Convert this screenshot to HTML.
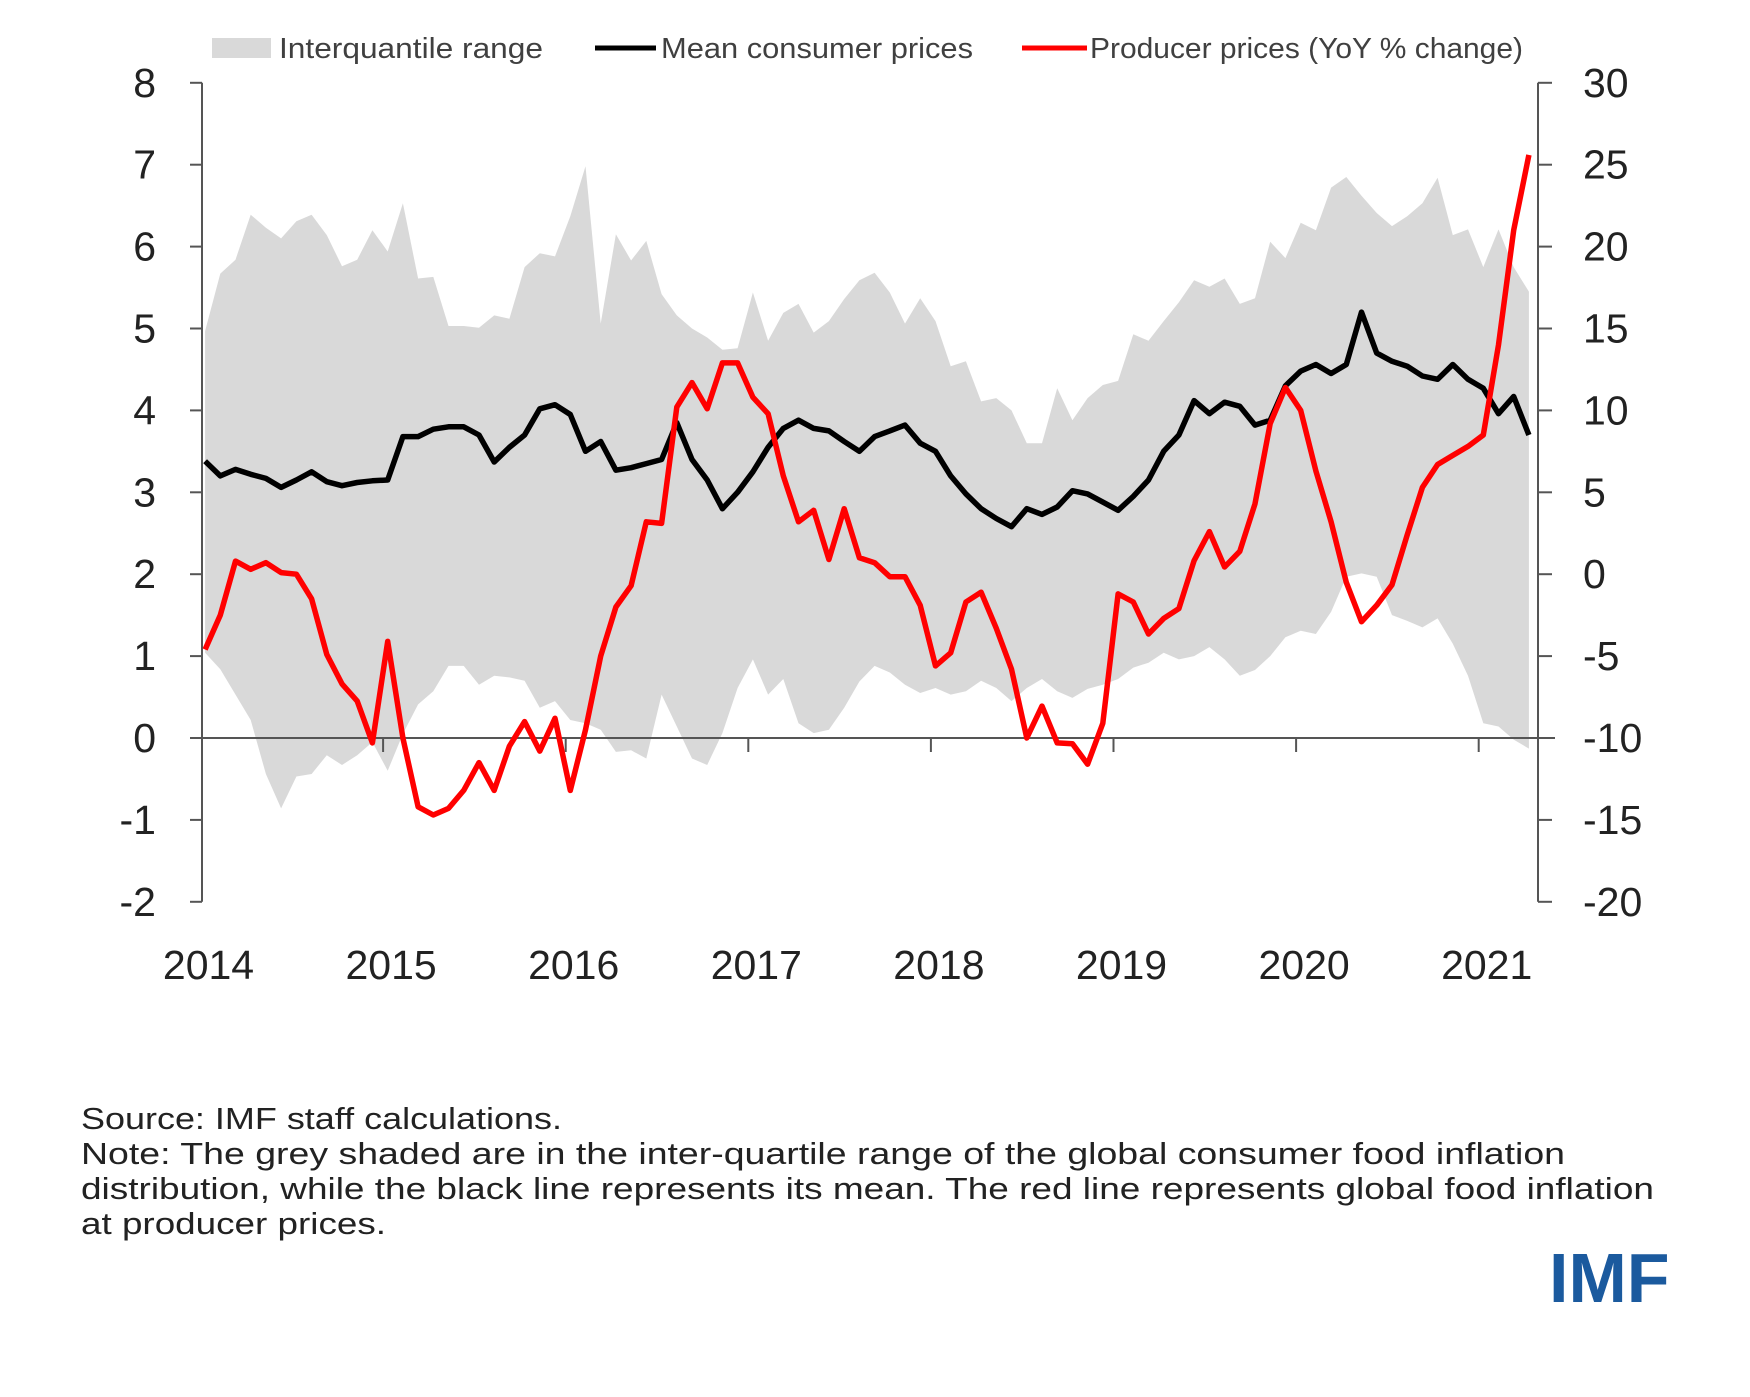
<!DOCTYPE html>
<html><head><meta charset="utf-8"><style>
body{margin:0;background:#fff;}
svg{display:block;font-family:"Liberation Sans",sans-serif;}
</style></head><body>
<svg id="chart" width="1750" height="1397" viewBox="0 0 1750 1397">
<g id="plot"></g>
<g>
<rect x="212" y="38" width="59" height="20" fill="#d9d9d9"/>
<text x="279" y="58" font-size="29" fill="#404040" textLength="264" lengthAdjust="spacingAndGlyphs">Interquantile range</text>
<line x1="595" y1="48" x2="656" y2="48" stroke="#000" stroke-width="5"/>
<text x="661" y="58" font-size="29" fill="#404040" textLength="312" lengthAdjust="spacingAndGlyphs">Mean consumer prices</text>
<line x1="1022" y1="48" x2="1087" y2="48" stroke="#ff0000" stroke-width="5"/>
<text x="1090" y="58" font-size="29" fill="#404040" textLength="433" lengthAdjust="spacingAndGlyphs">Producer prices (YoY % change)</text>
</g>
<g font-size="31" fill="#222">
<text x="81" y="1129" textLength="481" lengthAdjust="spacingAndGlyphs">Source: IMF staff calculations.</text>
<text x="81" y="1164" textLength="1484" lengthAdjust="spacingAndGlyphs">Note: The grey shaded are in the inter-quartile range of the global consumer food inflation</text>
<text x="81" y="1199" textLength="1573" lengthAdjust="spacingAndGlyphs">distribution, while the black line represents its mean. The red line represents global food inflation</text>
<text x="81" y="1234" textLength="305" lengthAdjust="spacingAndGlyphs">at producer prices.</text>
</g>
<text x="1549" y="1302" font-size="70" font-weight="bold" fill="#1b5a9e">IMF</text>
</svg>
<script>
const years = ["2014","2015","2016","2017","2018","2019","2020","2021"];
const leftTicks = [8,7,6,5,4,3,2,1,0,-1,-2];
const rightTicks = [30,25,20,15,10,5,0,-5,-10,-15,-20];
const meanCPI = [3.38,3.2,3.28,3.22,3.17,3.06,3.15,3.25,3.13,3.08,3.12,3.14,3.15,3.68,3.68,3.77,3.8,3.8,3.7,3.37,3.55,3.7,4.02,4.07,3.95,3.5,3.62,3.27,3.3,3.35,3.4,3.85,3.4,3.15,2.8,3.0,3.25,3.55,3.78,3.88,3.78,3.75,3.62,3.5,3.68,3.75,3.82,3.6,3.5,3.2,2.98,2.8,2.68,2.58,2.8,2.73,2.82,3.02,2.98,2.88,2.78,2.95,3.15,3.5,3.7,4.12,3.96,4.1,4.05,3.82,3.88,4.3,4.48,4.56,4.45,4.56,5.2,4.7,4.6,4.54,4.42,4.38,4.56,4.38,4.27,3.96,4.17,3.7];
const upperQ = [4.97,5.67,5.84,6.39,6.23,6.1,6.31,6.39,6.14,5.76,5.84,6.2,5.94,6.53,5.61,5.63,5.03,5.03,5.01,5.16,5.12,5.75,5.92,5.88,6.37,6.98,5.06,6.15,5.83,6.07,5.42,5.16,5.0,4.89,4.74,4.76,5.44,4.85,5.19,5.3,4.95,5.09,5.36,5.59,5.68,5.44,5.06,5.37,5.09,4.54,4.6,4.11,4.15,4.0,3.6,3.6,4.27,3.88,4.15,4.31,4.36,4.93,4.85,5.09,5.32,5.59,5.51,5.61,5.3,5.37,6.06,5.86,6.29,6.2,6.72,6.85,6.62,6.41,6.25,6.37,6.53,6.84,6.14,6.21,5.75,6.21,5.75,5.45];
const lowerQ = [1.04,0.84,0.53,0.22,-0.44,-0.86,-0.47,-0.44,-0.21,-0.33,-0.21,-0.05,-0.4,0.05,0.41,0.57,0.88,0.88,0.65,0.76,0.74,0.7,0.37,0.45,0.22,0.18,0.1,-0.17,-0.15,-0.25,0.53,0.14,-0.25,-0.33,0.06,0.61,0.96,0.53,0.72,0.18,0.06,0.1,0.37,0.69,0.88,0.8,0.65,0.55,0.61,0.53,0.57,0.7,0.61,0.45,0.61,0.72,0.57,0.49,0.6,0.65,0.72,0.86,0.92,1.04,0.96,1.0,1.11,0.96,0.76,0.83,1.0,1.23,1.31,1.27,1.54,1.97,2.01,1.97,1.5,1.43,1.35,1.46,1.15,0.76,0.18,0.14,-0.02,-0.13];
const producer = [-4.6,-2.5,0.8,0.3,0.7,0.1,0.0,-1.5,-4.9,-6.7,-7.75,-10.3,-4.1,-10,-14.2,-14.7,-14.3,-13.2,-11.5,-13.2,-10.5,-9.0,-10.8,-8.8,-13.2,-9.5,-5,-2,-0.7,3.2,3.1,10.2,11.7,10.1,12.9,12.9,10.8,9.8,6,3.2,3.9,0.9,4.0,1.0,0.7,-0.15,-0.15,-1.9,-5.6,-4.8,-1.7,-1.1,-3.3,-5.8,-10,-8.05,-10.3,-10.35,-11.6,-9.1,-1.2,-1.7,-3.65,-2.7,-2.1,0.83,2.6,0.44,1.4,4.3,9.2,11.4,10,6.3,3.2,-0.5,-2.9,-1.9,-0.65,2.4,5.3,6.7,7.25,7.8,8.5,14,21,25.6];

const NS="http://www.w3.org/2000/svg";
const plot=document.getElementById('plot');
const X0=200.5, YW=182.6, LX=202, RX=1538;
const xS=i=>X0+(i+0.3)*YW/12;
const yL=v=>738-v*81.9;
const yR=v=>yL((v+10)/5);
function mk(tag,attrs){const e=document.createElementNS(NS,tag);for(const k in attrs)e.setAttribute(k,attrs[k]);plot.appendChild(e);return e;}

let d='M'+upperQ.map((v,i)=>xS(i).toFixed(1)+','+yL(v).toFixed(1)).join('L');
for(let i=lowerQ.length-1;i>=0;i--) d+='L'+xS(i).toFixed(1)+','+yL(lowerQ[i]).toFixed(1);
const band=mk('path',{d:d+'Z',fill:'#d9d9d9'});



const ax='#555';
const la=mk('line',{x1:LX,y1:yL(8),x2:LX,y2:yL(-2),stroke:ax,'stroke-width':2});


const ra=mk('line',{x1:RX,y1:yL(8),x2:RX,y2:yL(-2),stroke:ax,'stroke-width':2});


const za=mk('line',{x1:LX,y1:yL(0),x2:1555,y2:yL(0),stroke:ax,'stroke-width':2});


leftTicks.forEach(v=>{
  mk('line',{x1:LX-12,y1:yL(v),x2:LX,y2:yL(v),stroke:ax,'stroke-width':2});
  const t=mk('text',{x:156,y:yL(v)+14,'font-size':41,'text-anchor':'end',fill:'#222'});
  t.textContent=v;
  
  
});
rightTicks.forEach(v=>{
  mk('line',{x1:RX,y1:yR(v),x2:RX+14,y2:yR(v),stroke:ax,'stroke-width':2});
  const t=mk('text',{x:1583,y:yR(v)+14,'font-size':41,fill:'#222'});
  t.textContent=v;
  
  
});
years.forEach((y,k)=>{
  const x=X0+k*YW;
  if(k>0) mk('line',{x1:x,y1:yL(0),x2:x,y2:yL(0)+14,stroke:ax,'stroke-width':2});
  const t=mk('text',{x:x+8,y:979,'font-size':41,'text-anchor':'middle',fill:'#222'});
  t.textContent=y;
  
  
});

const mean=mk('polyline',{points:meanCPI.map((v,i)=>xS(i).toFixed(1)+','+yL(v).toFixed(1)).join(' '),fill:'none',stroke:'#000','stroke-width':5.5,'stroke-linejoin':'round'});


const prod=mk('polyline',{points:producer.map((v,i)=>xS(i).toFixed(1)+','+yR(v).toFixed(1)).join(' '),fill:'none',stroke:'#ff0000','stroke-width':5.5,'stroke-linejoin':'round'});


</script>
</body></html>
